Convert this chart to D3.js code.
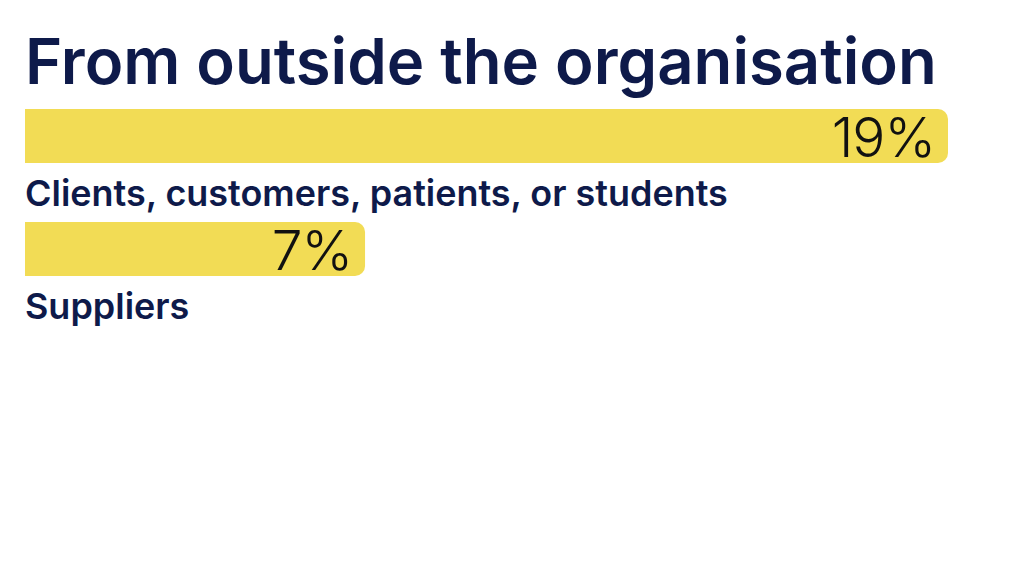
<!DOCTYPE html>
<html>
<head>
<meta charset="utf-8">
<script src="https://cdn.jsdelivr.net/npm/d3@7"></script>
<style>
  html, body { margin: 0; padding: 0; background: #ffffff; }
  svg { display: block; }
</style>
</head>
<body>
<svg id="chart" width="1024" height="568"></svg>
<script>
const title = "From outside the organisation";
const categories = ["Clients, customers, patients, or students", "Suppliers"];
const values = [19, 7];
const valueLabels = ["19%", "7%"];

const svg = d3.select("#chart");
const navy = "#0e1a4a";
const yellow = "#f2dc55";
const left = 25;

const x = d3.scaleLinear().domain([0, 19]).range([0, 923]);
const y = d3.scaleBand().domain(categories).range([109, 109 + 113 * categories.length]).paddingInner(0).paddingOuter(0);
const barH = 54;
const r = 10;

function fitWidth(sel, target) {
  const w = sel.node().getComputedTextLength();
  const fs = parseFloat(sel.attr("font-size"));
  sel.attr("font-size", fs * target / w);
}

const t = svg.append("text")
  .attr("x", left).attr("y", 84)
  .attr("font-family", "Inter, 'Noto Sans', sans-serif")
  .attr("font-weight", 600)
  .attr("font-size", 60)
  .attr("fill", navy)
  .text(title);
fitWidth(t, 912);

function barPath(x0, y0, w, h, rad) {
  return `M${x0},${y0} H${x0 + w - rad} A${rad},${rad} 0 0 1 ${x0 + w},${y0 + rad} V${y0 + h - rad} A${rad},${rad} 0 0 1 ${x0 + w - rad},${y0 + h} H${x0} Z`;
}

const g = svg.append("g");
let labelSize = null;
categories.forEach((c, i) => {
  const y0 = y(c);
  const w = x(values[i]);
  g.append("path").attr("d", barPath(left, y0, w, barH, r)).attr("fill", yellow);
  g.append("text")
    .attr("x", left + w - 13).attr("y", y0 + 48)
    .attr("text-anchor", "end")
    .attr("font-family", "Inter, 'Noto Sans', sans-serif")
    .attr("font-weight", 300)
    .attr("font-size", 55)
    .attr("letter-spacing", -1)
    .attr("fill", "#111111")
    .text(valueLabels[i]);
  const lab = g.append("text")
    .attr("x", left).attr("y", y0 + barH + 43)
    .attr("font-family", "Inter, 'Noto Sans', sans-serif")
    .attr("font-weight", 600)
    .attr("font-size", 31)
    .attr("fill", navy)
    .text(c);
  if (labelSize === null) { fitWidth(lab, 703); labelSize = lab.attr("font-size"); }
  else lab.attr("font-size", labelSize);
});
</script>
</body>
</html>
